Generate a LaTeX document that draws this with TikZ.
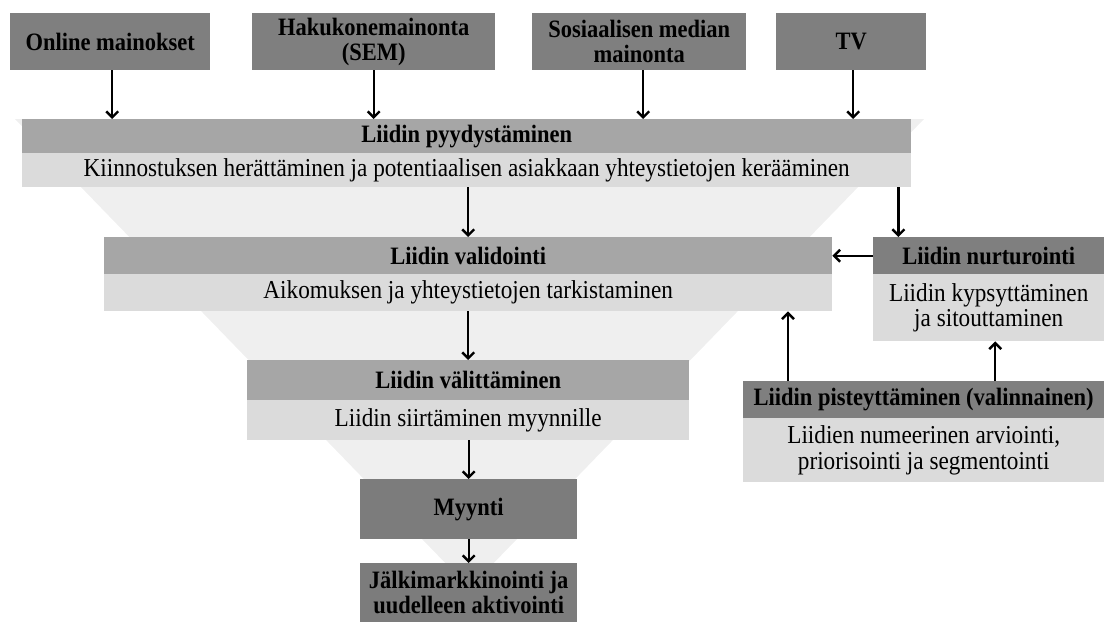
\documentclass[tikz,border=0pt]{standalone}
\usepackage{fontspec}
\setmainfont{Liberation Serif}[FakeStretch=0.9]
\usetikzlibrary{arrows.meta}
\definecolor{srcgray}{HTML}{7F7F7F}
\definecolor{hdrgray}{HTML}{A6A6A6}
\definecolor{bodygray}{HTML}{DBDBDB}
\definecolor{darkgray}{HTML}{7C7C7C}
\definecolor{funnelgray}{HTML}{EFEFEF}
\newcommand\lblfont{\fontsize{25.8}{25.5}\selectfont}
\newcommand\boldlbl{\fontsize{25}{25}\selectfont\bfseries}
\tikzset{
  box/.style={anchor=north west, inner sep=0pt, draw=none, align=center, font=\lblfont},
  srcbox/.style={box, fill=srcgray, font=\boldlbl},
  hdrbox/.style={box, fill=hdrgray, font=\boldlbl},
  sidehdr/.style={box, fill=srcgray, font=\boldlbl},
  bodybox/.style={box, fill=bodygray},
  salebox/.style={box, fill=darkgray, font=\boldlbl},
  arr/.style={-{Straight Barb[length=6pt,width=12pt]}, line width=2.4pt, black}
}
\begin{document}
\begin{tikzpicture}[x=1pt, y=-1pt]
\useasboundingbox (0,0) rectangle (1106,630);

% funnel in the background
\fill[funnelgray] (15,119) -- (924,119) -- (469.5,588) -- cycle;

% channels
\node[srcbox, minimum width=200pt, minimum height=57pt] (src1) at (10,13) {Online mainokset};
\node[srcbox, minimum width=243pt, minimum height=57pt] (src2) at (252,13) {Hakukonemainonta\\(SEM)};
\node[srcbox, minimum width=214pt, minimum height=57pt] (src3) at (532,13) {Sosiaalisen median\\mainonta};
\node[srcbox, minimum width=150pt, minimum height=57pt] (src4) at (776,13) {TV};

% funnel stages
\node[hdrbox, minimum width=889pt, minimum height=34pt] (pyyH) at (22,119) {Liidin pyydystäminen};
\node[bodybox, minimum width=889pt, minimum height=34pt] (pyyB) at (22,153) {Kiinnostuksen herättäminen ja potentiaalisen asiakkaan yhteystietojen kerääminen};

\node[hdrbox, minimum width=728pt, minimum height=37pt] (valH) at (104,237) {Liidin validointi};
\node[bodybox, minimum width=728pt, minimum height=37pt] (valB) at (104,274) {Aikomuksen ja yhteystietojen tarkistaminen};

\node[hdrbox, minimum width=442pt, minimum height=40pt] (valiH) at (247,360) {Liidin välittäminen};
\node[bodybox, minimum width=442pt, minimum height=40pt] (valiB) at (247,400) {Liidin siirtäminen myynnille};

\node[salebox, minimum width=217pt, minimum height=60pt] (myy) at (360,479) {Myynti};
\node[salebox, minimum width=217pt, minimum height=59pt] (jalki) at (360,563) {Jälkimarkkinointi ja\\uudelleen aktivointi};

% side loop
\node[sidehdr, minimum width=231pt, minimum height=37pt] (nurH) at (873,237) {Liidin nurturointi};
\node[bodybox, minimum width=231pt, minimum height=67pt] (nurB) at (873,274) {Liidin kypsyttäminen\\ja sitouttaminen};

\node[sidehdr, minimum width=361pt, minimum height=37pt] (pisH) at (743,381) {Liidin pisteyttäminen (valinnainen)};
\node[bodybox, minimum width=361pt, minimum height=64pt] (pisB) at (743,418) {Liidien numeerinen arviointi,\\priorisointi ja segmentointi};

% connectors
\draw[arr] ([xshift=2pt]src1.south) -- ([xshift=2pt]src1.south |- pyyH.north);
\draw[arr] (src2.south) -- (src2.south |- pyyH.north);
\draw[arr] ([xshift=4pt]src3.south) -- ([xshift=4pt]src3.south |- pyyH.north);
\draw[arr] ([xshift=2pt]src4.south) -- ([xshift=2pt]src4.south |- pyyH.north);

\draw[arr] (valH.north |- pyyB.south) -- (valH.north);
\draw[arr] (valiH.north |- valB.south) -- (valiH.north);
\draw[arr] (myy.north |- valiB.south) -- (myy.north);
\draw[arr] (myy.south) -- (jalki.north);

\draw[arr] ([xshift=-13pt]pyyB.south east) -- ([xshift=-13pt]pyyB.south east |- nurH.north);
\draw[arr] (nurH.west) -- (valH.east);
\draw[arr] ([xshift=45pt]pisH.north west) -- ([xshift=45pt]pisH.north west |- valB.south);
\draw[arr] ([xshift=6.5pt]nurB.south |- pisH.north) -- ([xshift=6.5pt]nurB.south);
\end{tikzpicture}
\end{document}
